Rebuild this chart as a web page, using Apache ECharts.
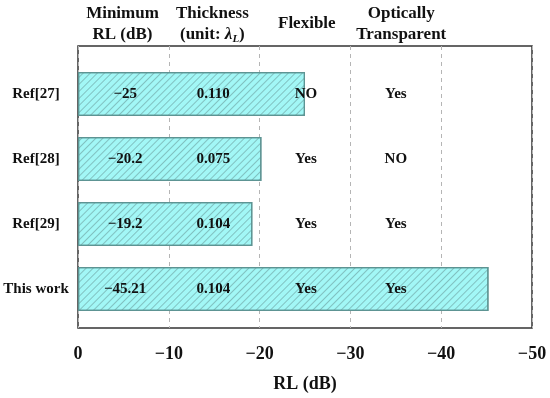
<!DOCTYPE html>
<html><head><meta charset="utf-8">
<script src="https://cdn.jsdelivr.net/npm/echarts@6/dist/echarts.min.js"></script>
<style>html,body{margin:0;padding:0;background:#fff}#c{width:550px;height:398px}</style>
</head><body><div id="c"></div>
<script>
const categories = ['Ref[27]', 'Ref[28]', 'Ref[29]', 'This work'];
const minRL = [-25, -20.2, -19.2, -45.21];
const minRLText = ['\u221225', '\u221220.2', '\u221219.2', '\u221245.21'];
const thickness = ['0.110', '0.075', '0.104', '0.104'];
const flexible = ['NO', 'Yes', 'Yes', 'Yes'];
const transparent = ['Yes', 'NO', 'Yes', 'Yes'];
const headers = ['Minimum\nRL (dB)', 'Thickness\n(unit: {i|\u03bb}{s|L})', 'Flexible', 'Optically\nTransparent'];
const xTicks = [0, -10, -20, -30, -40, -50];

// layout (column anchors in axis units)
const colPos = [-5.2, -14.9, -25.1, -35.0];
const headPos = [-4.9, -14.8, -25.2, -35.6];
const FONT = '"Liberation Serif","Times New Roman",serif';

const chart = echarts.init(document.getElementById('c'));
const textData = [];
const columns = [minRLText, thickness, flexible, transparent];
columns.forEach((col, ci) => {
  col.forEach((t, ri) => textData.push({value: [colPos[ci], categories[ri]], label: {formatter: t}}));
});

const fmt = v => v === 0 ? '0' : '\u2212' + Math.abs(v);

chart.setOption({
  animation: false,
  grid: [
    {left: 78, right: 18, top: 61.5, height: 260, show: false},
    {left: 78, right: 18, top: 46, bottom: 61, show: true, borderColor: '#333', borderWidth: 1.5, z: 0}
  ],
  xAxis: [
    {gridIndex: 0, type: 'value', min: -50, max: 0, inverse: true, show: false},
    {gridIndex: 1, type: 'value', min: -50, max: 0, interval: 10, inverse: true,
     axisLine: {show: false}, axisTick: {show: false},
     splitLine: {show: true, lineStyle: {type: [4, 4], color: '#b5b5b5', width: 1}},
     axisLabel: {formatter: fmt, fontFamily: FONT, fontWeight: 'bold', fontSize: 18, color: '#111', margin: 17},
     name: 'RL (dB)', nameLocation: 'middle', nameGap: 47,
     nameTextStyle: {fontFamily: FONT, fontWeight: 'bold', fontSize: 18, color: '#111'}}
  ],
  yAxis: [
    {gridIndex: 0, type: 'category', data: categories, inverse: true, axisLine: {show: false}, axisTick: {show: false},
     axisLabel: {fontFamily: FONT, fontWeight: 'bold', fontSize: 15, color: '#111', margin: 42, align: 'center'}},
    {gridIndex: 1, type: 'value', show: false, min: 0, max: 1}
  ],
  series: [
    {type: 'bar', xAxisIndex: 0, yAxisIndex: 0, data: minRL, barWidth: 44,
     itemStyle: {color: '#a2f7f6', borderColor: '#5d9493', borderWidth: 1.2,
       decal: {symbol: 'rect', symbolSize: 1, dashArrayX: [1, 0], dashArrayY: [1, 4],
               rotation: -Math.PI / 4, color: 'rgba(95,140,140,0.5)'}},
     z: 2},
    {type: 'scatter', xAxisIndex: 0, yAxisIndex: 0, symbolSize: 0, data: textData, z: 5,
     itemStyle: {opacity: 1},
     label: {show: true, position: 'inside', fontFamily: FONT, fontWeight: 'bold', fontSize: 15, color: '#111'}},
    {type: 'scatter', xAxisIndex: 1, yAxisIndex: 1, symbolSize: 0, z: 5, clip: false,
     itemStyle: {opacity: 1},
     data: headers.map((h, i) => ({value: [headPos[i], 1.079], label: {formatter: h}})),
     label: {show: true, position: 'inside', fontFamily: FONT, fontWeight: 'bold', fontSize: 17,
       color: '#111', lineHeight: 21, align: 'center',
       rich: {i: {fontStyle: 'italic', fontFamily: FONT, fontWeight: 'bold', fontSize: 17, lineHeight: 21},
              s: {fontStyle: 'italic', fontFamily: FONT, fontWeight: 'bold', fontSize: 11, lineHeight: 21, verticalAlign: 'bottom', padding: [8, 0, 0, 0]}}}}
  ]
});
</script></body></html>
